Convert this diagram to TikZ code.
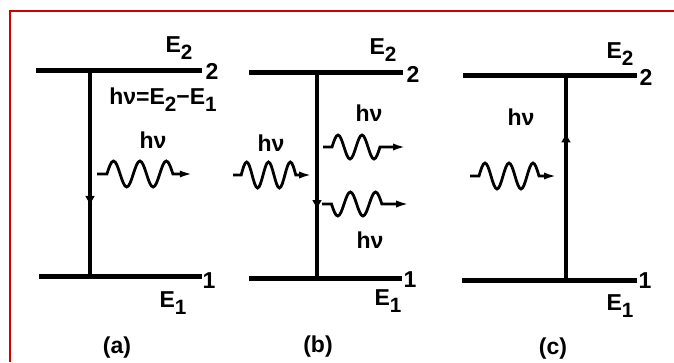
\documentclass[tikz,border=0pt]{standalone}
\usepackage{fontspec}
\setmainfont{Liberation Sans}
\usetikzlibrary{arrows.meta,decorations.markings}

\definecolor{framered}{RGB}{208,0,0}
\newcommand\enlvl[1]{E\raisebox{-0.6ex}{\scalebox{0.9}{#1}}}

\tikzset{
  lvlline/.style={line width=5pt},
  trans/.style={line width=3.5pt},
  wave/.style={line width=2.8pt, -{Latex[length=14pt,width=7pt]}},
  midarrow/.style={postaction={decorate},
    decoration={markings,mark=at position #1 with {\arrow{Latex[length=10pt,width=10pt]}}}},
  lbl/.style={font=\fontsize{23}{26}\selectfont\bfseries, inner sep=0pt},
  frame/.style={draw=framered, line width=2.5pt},
  % photon, 2.5 periods, first hump up
  pics/photon/.style={code={
    \draw[wave] (0,0) -- (9,0) sin (15,-13) cos (21,0) sin (27,13) cos (33,0)
      sin (39,-13) cos (45,0) sin (51,13) cos (57,0) sin (63,-13) cos (69,0) -- (88,0);
  }},
  % photon, 2 periods
  pics/photon2/.style={code={
    \draw[wave] (0,0) -- (9,0) sin (15,-12) cos (21,0) sin (27,12) cos (33,0)
      sin (39,-12) cos (45,0) sin (51,12) cos (57,0) -- (84,0);
  }},
}

\begin{document}
\begin{tikzpicture}[x=1pt,y=-1pt]
  \useasboundingbox (0,0) rectangle (674,362);
  \draw[frame] (10,362) -- (10,11) -- (674,11);

  % (a) spontaneous emission
  \coordinate (a2w) at (36,70);   \coordinate (a2e) at (202,70);
  \coordinate (a1w) at (39,276);  \coordinate (a1e) at (202,276);
  \coordinate (a2x) at (90,70);   \coordinate (a1x) at (90,276);
  \draw[lvlline] (a2w) -- (a2e);
  \draw[lvlline] (a1w) -- (a1e);
  \draw[trans, midarrow=0.66] (a2x) -- (a1x);
  \node[lbl] (aE2) at (179,48) {\enlvl{2}};
  \node[lbl] (aN2) at (212,71) {2};
  \node[lbl] (aN1) at (209,281) {1};
  \node[lbl] (aE1) at (173,303) {\enlvl{1}};
  \node[lbl] (aeq) at (163,100) {hν=\enlvl{2}−\enlvl{1}};
  \node[lbl] (ahv) at (153,140) {hν};
  \pic[xscale=1.1] at (97,174) {photon};
  \node[lbl] (acap) at (117,348) {(a)};

  % (b) stimulated emission
  \coordinate (b2w) at (249,72);  \coordinate (b2e) at (403,72);
  \coordinate (b1w) at (249,278); \coordinate (b1e) at (402,278);
  \coordinate (b2x) at (317,72);  \coordinate (b1x) at (317,278);
  \draw[lvlline] (b2w) -- (b2e);
  \draw[lvlline] (b1w) -- (b1e);
  \draw[trans, midarrow=0.67] (b2x) -- (b1x);
  \node[lbl] (bE2) at (383,50) {\enlvl{2}};
  \node[lbl] (bN2) at (413,74) {2};
  \node[lbl] (bN1) at (410,280) {1};
  \node[lbl] (bE1) at (388,301) {\enlvl{1}};
  \node[lbl] (bhvl) at (271,143) {hν};
  \node[lbl] (bhvu) at (369,113) {hν};
  \node[lbl] (bhvd) at (370,240) {hν};
  \pic[xscale=0.91] at (233,175) {photon};
  \pic at (323,147) {photon2};
  \pic[xscale=1.05,yscale=-1] at (322,204) {photon2};
  \node[lbl] (bcap) at (318,347) {(b)};

  % (c) absorption
  \coordinate (c2w) at (463,75);  \coordinate (c2e) at (637,75);
  \coordinate (c1w) at (462,280); \coordinate (c1e) at (637,280);
  \coordinate (c2x) at (566,75);  \coordinate (c1x) at (566,280);
  \draw[lvlline] (c2w) -- (c2e);
  \draw[lvlline] (c1w) -- (c1e);
  \draw[trans, midarrow=0.72] (c1x) -- (c2x);
  \node[lbl] (cE2) at (620,54) {\enlvl{2}};
  \node[lbl] (cN2) at (646,77) {2};
  \node[lbl] (cN1) at (645,281) {1};
  \node[lbl] (cE1) at (620,306) {\enlvl{1}};
  \node[lbl] (chv) at (521,117) {hν};
  \pic at (470,176) {photon};
  \node[lbl] (ccap) at (553,349) {(c)};
\end{tikzpicture}
\end{document}
